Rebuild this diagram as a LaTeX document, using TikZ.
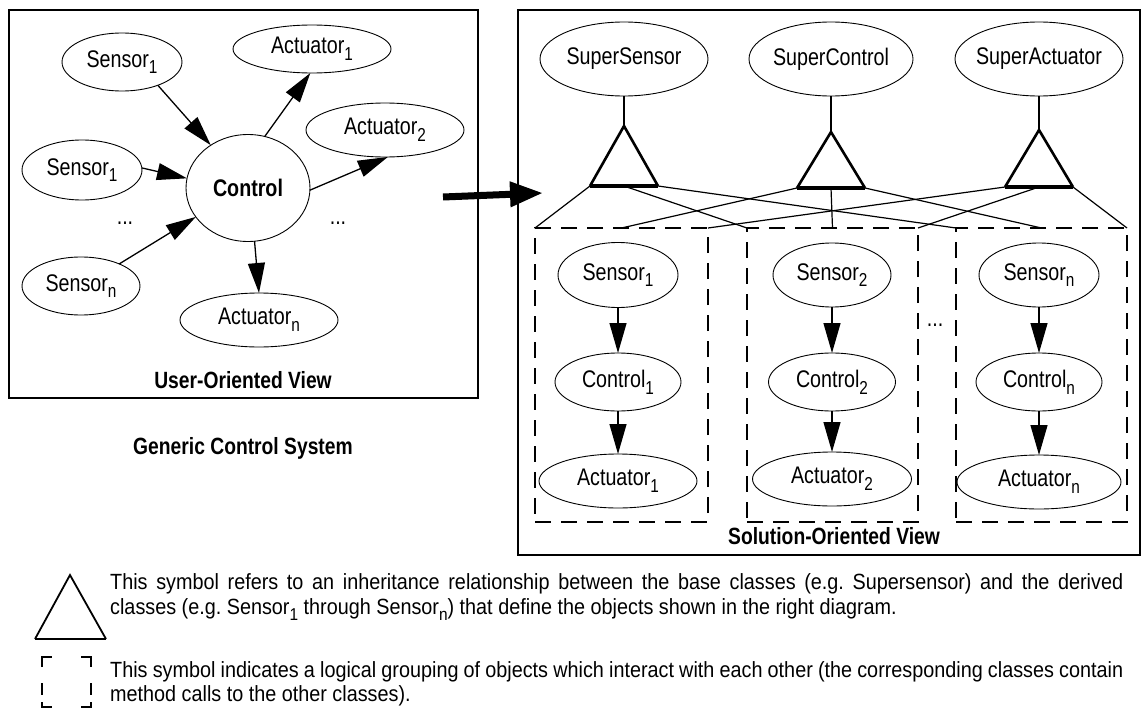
\documentclass[tikz,border=0pt]{standalone}
\usepackage{fontspec}
\usepackage{graphicx}
\usetikzlibrary{shapes.geometric,arrows.meta}
\newfontfamily\narrow{Liberation Sans}[FakeStretch=0.82]
\newfontfamily\legfont{Liberation Sans}[FakeStretch=0.9]
% lowered index, as in Sensor_1
\newcommand\sbs[1]{\raisebox{-0.28em}{\scalebox{0.78}{#1}}}
\frenchspacing

\begin{document}
\begin{tikzpicture}[x=1pt,y=-1pt,
  obj/.style={ellipse, draw, line width=0.9pt, inner sep=-6pt, outer sep=0pt,
              font=\narrow\fontsize{24}{28}\selectfont},
  link/.style={line width=1.3pt, -{Triangle[length=30pt,width=17pt]}},
  frame/.style={draw, line width=2.4pt, inner sep=0pt, outer sep=0pt},
  group/.style={draw, line width=2pt, dash pattern=on 16pt off 10pt, inner sep=0pt, outer sep=0pt},
  stem/.style={line width=2pt},
  triside/.style={line width=2.6pt, line join=miter},
  tribase/.style={line width=4pt},
  inhline/.style={line width=1.2pt},
  lbl/.style={inner sep=0pt, font=\narrow\fontsize{23.5}{27}\selectfont\bfseries},
  dotslbl/.style={inner sep=0pt, anchor=base, font=\narrow\fontsize{24}{28}\selectfont},
  legtext/.style={inner sep=0pt, anchor=base west, font=\legfont\fontsize{22}{26}\selectfont},
  bigarrow/.style={line width=7pt, -{Triangle[length=33pt,width=24pt]}}
]
\useasboundingbox (0,0) rectangle (1143,717);

% ---------- user-oriented view ----------
\node[frame, minimum width=469pt, minimum height=388pt] (userframe) at (243.5,204) {};
\node[obj, minimum width=120pt, minimum height=58pt]  (ls1) at (122,62)  {Sensor\sbs{1}};
\node[obj, minimum width=158pt, minimum height=48pt]  (la1) at (312,49)  {Actuator\sbs{1}};
\node[obj, minimum width=158pt, minimum height=54pt]  (la2) at (385,130) {Actuator\sbs{2}};
\node[obj, minimum width=120pt, minimum height=60pt]  (ls2) at (82,170)  {Sensor\sbs{1}};
\node[obj, minimum width=124pt, minimum height=107pt] (lc)  at (248,188) {\bfseries Control};
\node[obj, minimum width=118pt, minimum height=58pt]  (lsn) at (81,286)  {Sensor\sbs{n}};
\node[obj, minimum width=158pt, minimum height=54pt]  (lan) at (259,320) {Actuator\sbs{n}};
\node[dotslbl] (ldotsL) at (125,224) {...};
\node[dotslbl] (ldotsR) at (338,224) {...};

\draw[link] (ls1.-33) -- (lc.131);
\draw[link] (lc.72)   -- (la1.266);
\draw[link] (ls2.2)   -- (lc.171);
\draw[link] (lc.-2)   -- (la2.-84);
\draw[link] (lsn.30)  -- (lc.209);
\draw[link] (lc.-83)  -- (lan.90);

\node[lbl] (uov) at (243,380) {User-Oriented View};
\node[lbl] (gcs) at (243,448) {Generic Control System};

% ---------- transformation arrow ----------
\coordinate (bigS) at (443,197);
\coordinate (bigE) at (543,193);
\draw[bigarrow] (bigS) -- (bigE);

% ---------- solution-oriented view ----------
\node[frame, minimum width=622pt, minimum height=545pt] (solframe) at (829,282.5) {};

\node[obj, minimum width=168pt, minimum height=74pt] (ss) at (624,59)  {SuperSensor};
\node[obj, minimum width=164pt, minimum height=74pt] (sc) at (831,59)  {SuperControl};
\node[obj, minimum width=168pt, minimum height=74pt] (sa) at (1039,59) {SuperActuator};

% inheritance triangles
\coordinate (ssT) at (624,126);  \coordinate (ssL) at (590,186);  \coordinate (ssR) at (658,186);  \coordinate (ssM) at (624,186);
\coordinate (scT) at (831,132);  \coordinate (scL) at (797,188);  \coordinate (scR) at (865,188);  \coordinate (scM) at (831,188);
\coordinate (saT) at (1039,130); \coordinate (saL) at (1005,187); \coordinate (saR) at (1073,187); \coordinate (saM) at (1039,187);

\draw[stem] (ss.south) -- (ssT);
\draw[stem] (sc.south) -- (scT);
\draw[stem] (sa.south) -- (saT);

\draw[triside] (ssL) -- (ssT) -- (ssR);
\draw[triside] (scL) -- (scT) -- (scR);
\draw[triside] (saL) -- (saT) -- (saR);
\draw[tribase] (ssL) -- (ssR);
\draw[tribase] (scL) -- (scR);
\draw[tribase] (saL) -- (saR);

% object groups
\node[group, minimum width=173pt, minimum height=294pt] (g1) at (621.5,375) {};
\node[group, minimum width=171pt, minimum height=294pt] (g2) at (832.5,375) {};
\node[group, minimum width=171pt, minimum height=294pt] (g3) at (1041.5,375) {};

\draw[inhline] (ssL) -- (g1.north west);
\draw[inhline] (ssM) -- (g2.north west);
\draw[inhline] (ssR) -- (g3.north west);
\draw[inhline] (scL) -- (g1.north);
\draw[inhline] (scM) -- (g2.north);
\draw[inhline] (scR) -- (g3.north);
\draw[inhline] (saL) -- (g1.north east);
\draw[inhline] (saM) -- (g2.north east);
\draw[inhline] (saR) -- (g3.north east);

\node[obj, minimum width=120pt, minimum height=65pt] (s1) at (618,275) {Sensor\sbs{1}};
\node[obj, minimum width=126pt, minimum height=58pt] (c1) at (618,382) {Control\sbs{1}};
\node[obj, minimum width=158pt, minimum height=54pt] (a1) at (618,481) {Actuator\sbs{1}};
\node[obj, minimum width=118pt, minimum height=64pt] (s2) at (832,275) {Sensor\sbs{2}};
\node[obj, minimum width=127pt, minimum height=58pt] (c2) at (832,382) {Control\sbs{2}};
\node[obj, minimum width=159pt, minimum height=54pt] (a2) at (832,479) {Actuator\sbs{2}};
\node[obj, minimum width=120pt, minimum height=64pt] (sn) at (1039,275) {Sensor\sbs{n}};
\node[obj, minimum width=126pt, minimum height=58pt] (cn) at (1039,382) {Control\sbs{n}};
\node[obj, minimum width=164pt, minimum height=54pt] (an) at (1039,482) {Actuator\sbs{n}};

\draw[link] (s1) -- (c1);
\draw[link] (c1) -- (a1);
\draw[link] (s2) -- (c2);
\draw[link] (c2) -- (a2);
\draw[link] (sn) -- (cn);
\draw[link] (cn) -- (an);

\node[dotslbl] (rdots) at (935,326) {...};
\node[lbl] (sov) at (834,536) {Solution-Oriented View};

% ---------- legend ----------
\coordinate (lgT) at (70,575); \coordinate (lgL) at (35,639); \coordinate (lgR) at (106,639);
\draw[line width=1.8pt, line join=miter] (lgL) -- (lgT) -- (lgR);
\draw[line width=2.8pt] (lgL) -- (lgR);

\begin{scope}[line width=2pt]
  \draw (42,667) -- (42,657) -- (52,657);
  \draw (81,657) -- (91,657) -- (91,667);
  \draw (42,683) -- (42,695);
  \draw (91,683) -- (91,695);
  \draw (42,702) -- (42,707) -- (52,707);
  \draw (81,707) -- (91,707) -- (91,702);
\end{scope}

\node[legtext] (leg1) at (110,589) {\makebox[1013pt][s]{This symbol refers to an inheritance relationship between the base classes (e.g. Supersensor) and the derived}};
\node[legtext] (leg2) at (110,614) {classes (e.g. Sensor\sbs{1} through Sensor\sbs{n}) that define the objects shown in the right diagram.};
\node[legtext] (leg3) at (110,677) {\makebox[1013pt][s]{This symbol indicates a logical grouping of objects which interact with each other (the corresponding classes contain}};
\node[legtext] (leg4) at (110,701) {method calls to the other classes).};
\end{tikzpicture}
\end{document}
